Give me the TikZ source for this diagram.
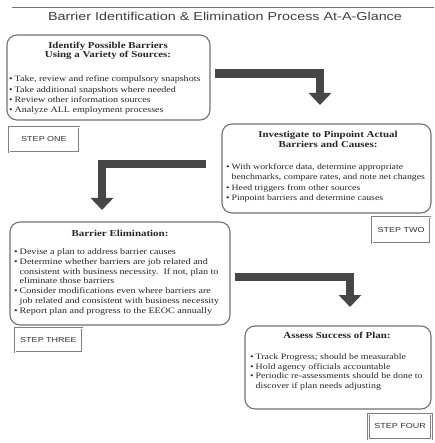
\documentclass[tikz,border=0pt]{standalone}
\usepackage{fontspec}
\setmainfont{Liberation Serif}
\newfontfamily\bodyf[FakeStretch=1.2]{Liberation Serif}
\newfontfamily\sansf[FakeStretch=1.25]{Liberation Sans}
\usetikzlibrary{arrows.meta}
\newcommand{\bl}{\textbullet}
\begin{document}
\begin{tikzpicture}[x=1pt,y=-1pt,
  roundbox/.style={draw=black!55, line width=1.1pt, rounded corners=10pt, inner sep=0pt},
  stepbox/.style={draw=black!50, line width=0.6pt, double=white, double distance=0.9pt, inner sep=0pt,
     font=\sansf\fontsize{7.2}{7.5}\selectfont, text=black!80},
  boxtitle/.style={font=\bodyf\bfseries\fontsize{9.1}{9.2}\selectfont, align=center, inner sep=0pt, text=black!85},
  bullets/.style={inner sep=0pt, anchor=north west, text=black!85},
  bigarrow/.style={draw=black!72, line width=8.5pt, line join=miter, -{Triangle[width=22pt,length=12pt]}},
]
\useasboundingbox[fill=white] (0,0) rectangle (434,443);

% title
\coordinate (l1) at (12,7.5);
\coordinate (l2) at (434,7.5);
\draw[black!55, line width=1.2pt] (l1) -- (l2);
\node[text=black!75, inner sep=0pt] (title) at (225,16)
  {\sansf\fontsize{11.5}{12}\selectfont Barrier Identification \& Elimination Process At-A-Glance};

% boxes
\node[roundbox, minimum width=203pt, minimum height=85pt] (b1) at (108.5,77.5) {};
\node[roundbox, minimum width=209pt, minimum height=89pt] (b2) at (326.5,168.5) {};
\node[roundbox, minimum width=220pt, minimum height=103pt] (b3) at (120,273.5) {};
\node[roundbox, minimum width=186pt, minimum height=83pt] (b4) at (338,367.5) {};

% box 1 text
\node[boxtitle] (t1) at (108,51) {Identify Possible Barriers\\Using a Variety of Sources:};
\node[bullets, font=\bodyf\fontsize{8.35}{10.2}\selectfont] (u1) at (9,74.5) {\begin{tabular}{@{}l@{\hspace{2pt}}l@{}}
\bl & Take, review and refine compulsory snapshots\\
\bl & Take additional snapshots where needed\\
\bl & Review other information sources\\
\bl & Analyze ALL employment processes
\end{tabular}};

% box 2 text
\node[boxtitle] (t2) at (328,139.5) {Investigate to Pinpoint Actual\\Barriers and Causes:};
\node[bullets, font=\bodyf\fontsize{8.15}{10.3}\selectfont] (u2) at (226,162) {\begin{tabular}{@{}l@{\hspace{2pt}}l@{}}
\bl & With workforce data, determine appropriate\\
 & benchmarks, compare rates, and note net changes\\
\bl & Heed triggers from other sources\\
\bl & Pinpoint barriers and determine causes
\end{tabular}};

% box 3 text
\node[boxtitle] (t3) at (120,233) {Barrier Elimination:};
\node[bullets, font=\bodyf\fontsize{8.4}{9.8}\selectfont] (u3) at (14,247.5) {\begin{tabular}{@{}l@{\hspace{2pt}}l@{}}
\bl & Devise a plan to address barrier causes\\
\bl & Determine whether barriers are job related and\\
 & consistent with business necessity.\ \ If not, plan to\\
 & eliminate those barriers\\
\bl & Consider modifications even where barriers are\\
 & job related and consistent with business necessity\\
\bl & Report plan and progress to the EEOC annually
\end{tabular}};

% box 4 text
\node[boxtitle] (t4) at (337,335) {Assess Success of Plan:};
\node[bullets, font=\bodyf\fontsize{8.25}{9.6}\selectfont] (u4) at (250,352.5) {\begin{tabular}{@{}l@{\hspace{2pt}}l@{}}
\bl & Track Progress; should be measurable\\
\bl & Hold agency officials accountable\\
\bl & Periodic re-assessments should be done to\\
 & discover if plan needs adjusting
\end{tabular}};

% step labels
\node[stepbox, minimum width=70pt, minimum height=25pt] (s1) at (44,139.5) {STEP ONE};
\node[stepbox, minimum width=58pt, minimum height=26pt] (s2) at (401,230) {STEP TWO};
\node[stepbox, minimum width=67pt, minimum height=24pt] (s3) at (48.5,340) {STEP THREE};
\node[stepbox, minimum width=63pt, minimum height=25pt] (s4) at (400,426.5) {STEP FOUR};

% arrows
\coordinate (a1s) at (215,73.5);
\coordinate (a1e) at (320,105);
\draw[bigarrow] (a1s) -| (a1e);
\coordinate (a2s) at (206,164);
\coordinate (a2e) at (102,210);
\draw[bigarrow] (a2s) -| (a2e);
\coordinate (a3s) at (235,277);
\coordinate (a3e) at (350,307);
\draw[bigarrow] (a3s) -| (a3e);
\end{tikzpicture}
\end{document}
